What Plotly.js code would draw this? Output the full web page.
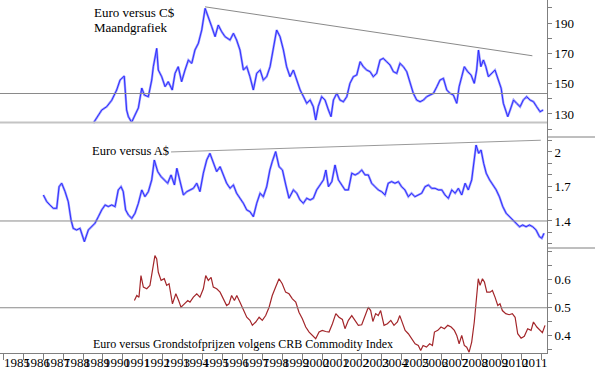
<!DOCTYPE html>
<html>
<head>
<meta charset="utf-8">
<script src="https://cdn.plot.ly/plotly-3.0.1.min.js"></script>
<style>html,body{margin:0;padding:0;background:#fff;}#chart{width:595px;height:372px;}</style>
</head>
<body>
<div id="chart"></div>
<script>
// ---- Euro versus C$ (monthly) ----
const cadX = [1989.52,1989.94,1990.19,1990.44,1990.69,1990.86,1991.07,1991.19,1991.28,1991.44,
1991.61,1991.78,1991.95,1992.08,1992.28,1992.45,1992.53,1992.70,1992.78,1992.95,
1993.12,1993.28,1993.48,1993.62,1993.78,1993.95,1994.12,1994.29,1994.46,1994.62,
1994.79,1994.96,1995.13,1995.29,1995.46,1995.63,1995.79,1995.96,1996.13,1996.38,
1996.55,1996.71,1996.88,1997.05,1997.22,1997.38,1997.55,1997.72,1997.89,1998.05,
1998.22,1998.39,1998.55,1998.72,1998.89,1999.06,1999.22,1999.39,1999.56,1999.73,
1999.90,2000.07,2000.23,2000.40,2000.56,2000.68,2000.81,2000.98,2001.15,2001.32,
2001.45,2001.57,2001.74,2001.90,2002.07,2002.24,2002.40,2002.57,2002.74,2002.91,
2003.07,2003.24,2003.41,2003.57,2003.74,2003.91,2004.07,2004.24,2004.41,2004.58,
2004.75,2004.91,2005.08,2005.25,2005.42,2005.58,2005.75,2005.92,2006.09,2006.25,
2006.42,2006.59,2006.76,2006.92,2007.09,2007.26,2007.42,2007.59,2007.76,2007.88,
2008.01,2008.14,2008.31,2008.48,2008.64,2008.76,2008.85,2008.97,2009.10,2009.22,
2009.35,2009.52,2009.68,2009.85,2009.99,2010.10,2010.22,2010.32,2010.44,2010.61,
2010.77,2010.94,2011.10,2011.27,2011.44,2011.61,2011.77,2011.94,2012.10];
const cadY = [124,132.6,134.8,139,145.8,152.4,155,132.6,128.2,124.5,
129.3,134,147.1,142.5,141.4,152.4,161.2,173.3,159,154.6,
148,151.3,145.8,156.8,161.2,151.3,159,165.6,163.4,172.2,
176.6,185.4,199.7,193.1,187.6,181,188.7,184.3,181,178.8,
183.2,178.8,172.2,159,161.2,154.6,145.8,156.8,159,152.4,
154.6,161.2,174.4,185.4,181,172.2,161.2,154.6,159,152.4,
145.8,141.4,137,139.2,134.8,126,135,141.4,139.2,132.6,
128.2,139.2,143.6,139.2,138.1,141.4,150.2,154.6,155.7,164.5,
161.2,159,157.9,154.6,156.8,165.6,166.7,164.5,162.3,157.9,
156.8,163.4,161.2,157.9,151.3,143.6,139.2,138.1,139.2,141.4,
142.5,143.6,148,152.4,153.5,145.8,143.6,142.5,137,148,
154.6,161.2,157.9,155.7,150.2,159,172.2,161.2,165.6,161.2,
154.6,156.8,159,152.4,146.9,137,132.6,128.2,132.6,139.2,
137,134.8,139.2,141.4,139.2,138.1,134.8,131.5,132.6];

// ---- Euro versus A$ ----
const audX = [1987.01,1987.18,1987.34,1987.51,1987.68,1987.80,1987.93,1988.10,1988.26,1988.40,
1988.51,1988.68,1988.85,1989.07,1989.27,1989.44,1989.60,1989.77,1989.94,1990.11,
1990.27,1990.44,1990.61,1990.77,1990.91,1991.02,1991.14,1991.28,1991.45,1991.61,
1991.78,1991.95,1992.11,1992.28,1992.45,1992.58,1992.75,1992.92,1993.08,1993.25,
1993.42,1993.59,1993.71,1993.87,1994.04,1994.21,1994.37,1994.54,1994.71,1994.87,
1995.04,1995.21,1995.37,1995.54,1995.71,1995.88,1996.04,1996.21,1996.38,1996.55,
1996.71,1996.88,1997.05,1997.22,1997.38,1997.55,1997.72,1997.89,1998.05,1998.22,
1998.38,1998.50,1998.67,1998.84,1999.01,1999.18,1999.34,1999.56,1999.73,1999.89,
2000.06,2000.23,2000.40,2000.56,2000.73,2000.90,2001.07,2001.19,2001.32,2001.49,
2001.65,2001.82,2001.99,2002.15,2002.32,2002.49,2002.66,2002.82,2002.99,2003.16,
2003.32,2003.49,2003.66,2003.82,2003.99,2004.16,2004.32,2004.49,2004.66,2004.83,
2004.99,2005.16,2005.33,2005.49,2005.66,2005.83,2006.00,2006.17,2006.34,2006.50,
2006.67,2006.84,2007.01,2007.17,2007.34,2007.51,2007.68,2007.84,2008.01,2008.18,
2008.34,2008.51,2008.63,2008.73,2008.86,2008.98,2009.11,2009.24,2009.41,2009.57,
2009.74,2009.90,2010.07,2010.24,2010.40,2010.57,2010.74,2010.91,2011.07,2011.24,
2011.41,2011.57,2011.74,2011.91,2012.03,2012.14];
const audY = [1.626,1.568,1.539,1.510,1.510,1.698,1.728,1.655,1.568,1.409,
1.336,1.322,1.336,1.220,1.322,1.350,1.380,1.437,1.496,1.539,
1.525,1.539,1.525,1.670,1.698,1.655,1.496,1.452,1.423,1.467,
1.554,1.670,1.611,1.655,1.757,1.930,1.829,1.785,1.757,1.728,
1.800,1.713,1.858,1.742,1.626,1.655,1.670,1.684,1.728,1.655,
1.815,1.930,1.988,1.902,1.829,1.872,1.800,1.728,1.684,1.713,
1.641,1.597,1.554,1.496,1.481,1.437,1.554,1.641,1.611,1.698,
1.843,1.916,2.003,1.872,1.843,1.713,1.597,1.670,1.641,1.583,
1.554,1.597,1.583,1.597,1.670,1.713,1.757,1.843,1.698,1.742,
1.887,1.757,1.713,1.670,1.670,1.815,1.800,1.815,1.843,1.800,
1.800,1.728,1.698,1.670,1.655,1.626,1.728,1.742,1.728,1.742,
1.698,1.670,1.611,1.641,1.611,1.626,1.641,1.698,1.713,1.684,
1.684,1.670,1.670,1.626,1.597,1.670,1.641,1.684,1.626,1.728,
1.670,1.757,1.902,2.060,1.988,2.017,1.902,1.815,1.757,1.713,
1.670,1.611,1.525,1.467,1.437,1.409,1.380,1.350,1.365,1.350,
1.365,1.350,1.322,1.264,1.250,1.293];

// ---- Euro versus CRB Commodity Index ----
const crbX = [1991.58,1991.70,1991.81,1991.91,1992.03,1992.20,1992.36,1992.48,1992.61,1992.70,
1992.78,1992.92,1993.08,1993.20,1993.32,1993.49,1993.66,1993.80,1993.92,1994.09,
1994.26,1994.37,1994.54,1994.71,1994.87,1995.04,1995.16,1995.29,1995.43,1995.54,
1995.71,1995.88,1996.04,1996.21,1996.33,1996.46,1996.60,1996.72,1996.88,1997.05,
1997.22,1997.38,1997.50,1997.67,1997.84,1998.00,1998.17,1998.34,1998.50,1998.67,
1998.84,1999.00,1999.17,1999.34,1999.51,1999.68,1999.84,2000.01,2000.18,2000.35,
2000.51,2000.68,2000.85,2001.01,2001.18,2001.35,2001.52,2001.69,2001.85,2002.02,
2002.15,2002.32,2002.49,2002.65,2002.82,2002.99,2003.15,2003.32,2003.44,2003.55,
2003.69,2003.82,2003.94,2004.11,2004.28,2004.45,2004.61,2004.78,2004.90,2005.03,
2005.17,2005.33,2005.50,2005.67,2005.83,2005.95,2006.07,2006.24,2006.40,2006.54,
2006.64,2006.81,2006.97,2007.14,2007.31,2007.48,2007.64,2007.76,2007.88,2008.01,
2008.14,2008.26,2008.38,2008.51,2008.64,2008.76,2008.84,2008.93,2009.05,2009.15,
2009.27,2009.43,2009.55,2009.68,2009.82,2009.93,2010.05,2010.22,2010.39,2010.55,
2010.69,2010.82,2010.99,2011.15,2011.32,2011.49,2011.61,2011.78,2011.94,2012.06,
2012.19];
const crbY = [0.526,0.544,0.538,0.615,0.574,0.568,0.580,0.627,0.687,0.675,
0.627,0.598,0.604,0.580,0.586,0.514,0.550,0.526,0.502,0.514,
0.526,0.520,0.538,0.550,0.538,0.568,0.615,0.598,0.609,0.574,
0.568,0.556,0.532,0.508,0.514,0.544,0.526,0.544,0.520,0.490,
0.466,0.455,0.437,0.449,0.466,0.455,0.472,0.502,0.544,0.574,
0.604,0.586,0.556,0.550,0.532,0.520,0.484,0.461,0.431,0.413,
0.401,0.389,0.413,0.419,0.415,0.413,0.443,0.479,0.466,0.458,
0.425,0.455,0.472,0.455,0.437,0.439,0.472,0.502,0.490,0.451,
0.479,0.472,0.490,0.437,0.443,0.455,0.437,0.449,0.472,0.443,
0.419,0.407,0.389,0.371,0.365,0.347,0.365,0.359,0.371,0.365,
0.413,0.419,0.431,0.425,0.437,0.431,0.419,0.401,0.371,0.401,
0.365,0.359,0.341,0.377,0.449,0.544,0.604,0.580,0.604,0.592,
0.556,0.556,0.562,0.538,0.508,0.514,0.490,0.479,0.475,0.479,
0.466,0.407,0.391,0.398,0.425,0.419,0.449,0.431,0.419,0.411,
0.437];

// ---- tick labels ----
const yearTicks = [1985,1986,1987,1988,1989,1990,1991,1992,1993,1994,1995,1996,1997,1998,1999,2000,2001,2002,2003,2004,2005,2006,2007,2008,2009,2010,2011,2012];
const yearLabels = ['1985','1986','1987','1988','1989','1990','1991','1992','1993','1994','1995','1996','1997','1998','1999','2000','2001','2002','2003','2004','2005','2006','2007','2008','2009','2010','2011',''];
const cadTicks = [130,150,170,190];
const audTicks = [1.4,1.7,2];
const audLabels = ['1.4','1.7','2'];
const crbTicks = [0.4,0.5,0.6];
const crbLabels = ['0.4','0.5','0.6'];

// ---- trend / support lines ----
const cadTrend = {x:[1995.125,2011.556], y:[200.7,168.4]};
const audTrend = {x:[1993.42,2011.98], y:[2.0,2.102]};
const cadSupport = [143.5,124.4];
const audSupport = 1.4;
const crbSupport = 0.5;

const serif = 'Liberation Serif, Times New Roman, serif';
const blueLight = '#9a9aff';
const blueDark = '#2323ff';

const traces = [
  {x:cadX, y:cadY, xaxis:'x', yaxis:'y', mode:'lines', line:{color:blueLight, width:2.3}, hoverinfo:'skip'},
  {x:cadX, y:cadY, xaxis:'x', yaxis:'y', mode:'lines', line:{color:blueDark, width:0.9}, hoverinfo:'skip'},
  {x:audX, y:audY, xaxis:'x', yaxis:'y2', mode:'lines', line:{color:blueLight, width:2.3}, hoverinfo:'skip'},
  {x:audX, y:audY, xaxis:'x', yaxis:'y2', mode:'lines', line:{color:blueDark, width:0.9}, hoverinfo:'skip'},
  {x:crbX, y:crbY, xaxis:'x', yaxis:'y3', mode:'lines', line:{color:'#a3262a', width:1.2}, hoverinfo:'skip'}
];

const H = 353; // plot height in px
const dTop = 1 - 137/H, dMid = 1 - 248/H;
const axCol = '#7f7f7f';
const yCommon = {
  side:'right', anchor:'x', showline:true, linecolor:axCol, linewidth:1,
  ticks:'outside', ticklen:4, tickcolor:axCol, showgrid:false, zeroline:false,
  tickfont:{family:serif, size:13, color:'#000'}
};

// year labels placed just right of each year tick (as in the reference)
const yearAnnots = yearTicks.map((yr, i) => ({
  text: yearLabels[i], xref:'x', yref:'paper', x: yr + 0.7, y: -9.5/H,
  xanchor:'center', yanchor:'middle', showarrow:false,
  font:{family:serif, size:13, color:'#000'}
}));

const layout = {
  width:595, height:372,
  margin:{l:0, r:48, t:0, b:19},
  paper_bgcolor:'#fff', plot_bgcolor:'#fff',
  showlegend:false,
  xaxis:{
    anchor:'y3', domain:[0,1], range:[1984.834, 2012.29],
    tickmode:'array', tickvals:yearTicks, showticklabels:false,
    ticks:'outside', ticklen:6, tickcolor:axCol, showline:true, linecolor:axCol,
    showgrid:false, zeroline:false
  },
  yaxis: Object.assign({}, yCommon, {domain:[dTop,1], range:[114.8,205.2],
    tickmode:'array', tickvals:cadTicks,
    minor:{dtick:10, tick0:130, ticks:'outside', ticklen:4, tickcolor:axCol, showgrid:false}}),
  yaxis2: Object.assign({}, yCommon, {domain:[dMid,dTop], range:[1.165,2.13],
    tickmode:'array', tickvals:audTicks, ticktext:audLabels,
    minor:{dtick:0.1, tick0:1.4, ticks:'outside', ticklen:4, tickcolor:axCol, showgrid:false}}),
  yaxis3: Object.assign({}, yCommon, {domain:[0,dMid], range:[0.338,0.714],
    tickmode:'array', tickvals:crbTicks, ticktext:crbLabels,
    minor:{dtick:0.05, tick0:0.4, ticks:'outside', ticklen:4, tickcolor:axCol, showgrid:false}}),
  shapes:[
    {type:'line', xref:'paper', yref:'y', x0:0, x1:1, y0:cadSupport[0], y1:cadSupport[0], line:{color:'#8a8a8a', width:1}},
    {type:'line', xref:'paper', yref:'y', x0:0, x1:1, y0:cadSupport[1], y1:cadSupport[1], line:{color:'#c4c4c4', width:2}},
    {type:'line', xref:'paper', yref:'y2', x0:0, x1:1, y0:audSupport, y1:audSupport, line:{color:'#8a8a8a', width:1}},
    {type:'line', xref:'paper', yref:'y3', x0:0, x1:1, y0:crbSupport, y1:crbSupport, line:{color:'#8a8a8a', width:1}},
    {type:'line', xref:'x', yref:'y', x0:cadTrend.x[0], x1:cadTrend.x[1], y0:cadTrend.y[0], y1:cadTrend.y[1], line:{color:'#8a8a8a', width:1}},
    {type:'line', xref:'x', yref:'y2', x0:audTrend.x[0], x1:audTrend.x[1], y0:audTrend.y[0], y1:audTrend.y[1], line:{color:'#9a9a9a', width:1}},
    {type:'line', xref:'paper', yref:'paper', x0:1, x1:595/547, y0:dTop, y1:dTop, line:{color:axCol, width:1}},
    {type:'line', xref:'paper', yref:'paper', x0:1, x1:595/547, y0:dMid, y1:dMid, line:{color:axCol, width:1}}
  ],
  annotations:[
    {text:'Euro versus C$', xref:'paper', yref:'paper', x:92/547, y:1-12.5/H, xanchor:'left', yanchor:'middle', showarrow:false, font:{family:serif, size:13, color:'#000'}},
    {text:'Maandgrafiek', xref:'paper', yref:'paper', x:92/547, y:1-28/H, xanchor:'left', yanchor:'middle', showarrow:false, font:{family:serif, size:13, color:'#000'}},
    {text:'Euro versus A$', xref:'paper', yref:'paper', x:90/547, y:1-151.3/H, xanchor:'left', yanchor:'middle', showarrow:false, font:{family:serif, size:12.5, color:'#000'}},
    {text:'Euro versus Grondstofprijzen volgens CRB Commodity Index', xref:'paper', yref:'paper', x:90.5/547, y:1-344.3/H, xanchor:'left', yanchor:'middle', showarrow:false, font:{family:serif, size:12, color:'#000'}}
  ].concat(yearAnnots)
};

Plotly.newPlot('chart', traces, layout, {displayModeBar:false, staticPlot:true});
</script>
</body>
</html>
